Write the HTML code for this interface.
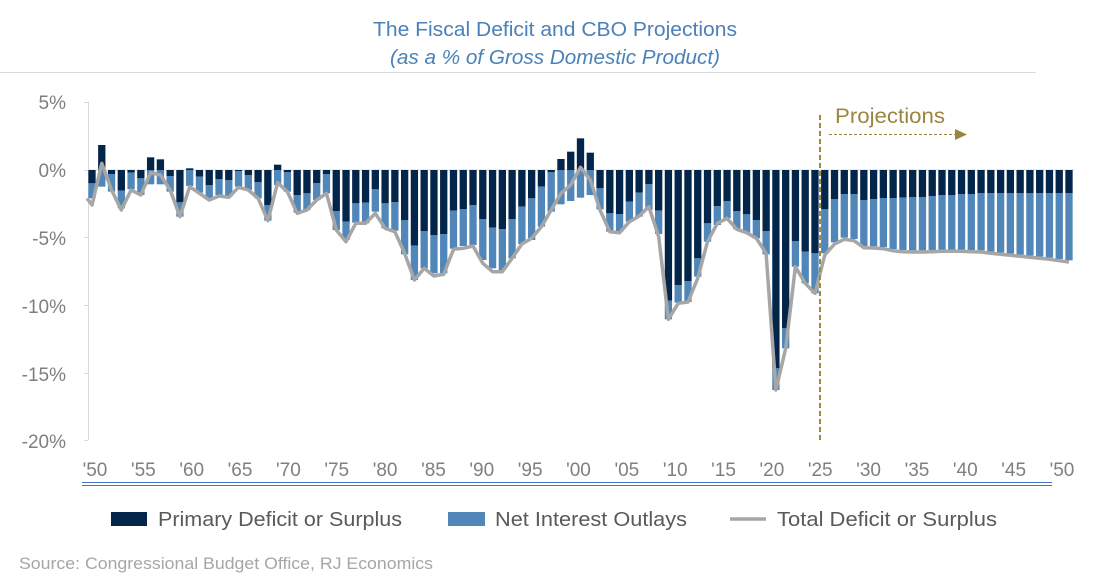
<!DOCTYPE html>
<html><head><meta charset="utf-8"><style>
html,body{margin:0;padding:0;background:#fff;}
svg{display:block;font-family:"Liberation Sans",Calibri,sans-serif;}
</style></head><body>
<svg id="s" width="1106" height="582" viewBox="0 0 1106 582" xmlns="http://www.w3.org/2000/svg">
<text x="555" y="36" text-anchor="middle" font-size="20.5" fill="#4a81b8" textLength="364" lengthAdjust="spacingAndGlyphs">The Fiscal Deficit and CBO Projections</text>
<text x="555" y="64" text-anchor="middle" font-size="20.5" font-style="italic" fill="#4a81b8" textLength="330" lengthAdjust="spacingAndGlyphs">(as a % of Gross Domestic Product)</text>
<line x1="0" y1="72.5" x2="1036" y2="72.5" stroke="#d9d9d9" stroke-width="1"/>
<g font-size="19" fill="#7f7f7f" text-anchor="end">
<text x="66" y="109">5%</text><text x="66" y="177">0%</text><text x="66" y="245">-5%</text>
<text x="66" y="313">-10%</text><text x="66" y="381">-15%</text><text x="66" y="448">-20%</text>
</g>
<line x1="88.5" y1="102" x2="88.5" y2="440" stroke="#d9d9d9"/>
<g id="ticks" stroke="#d9d9d9"></g>
<line x1="88" y1="170" x2="1074" y2="170" stroke="#d9d9d9"/>
<g id="bars"></g>
<polyline id="ln" fill="none" stroke="#a6a6a6" stroke-width="3.5" stroke-linejoin="round"/>
<line x1="820" y1="115" x2="820" y2="442" stroke="#a08a3c" stroke-width="2" stroke-dasharray="5,3"/>
<text x="835" y="123" font-size="21.5" fill="#9c8540" textLength="110" lengthAdjust="spacingAndGlyphs">Projections</text>
<line x1="829" y1="134.5" x2="955" y2="134.5" stroke="#9c8540" stroke-width="1" stroke-dasharray="3,2"/>
<polygon points="955,129 967,134.5 955,140" fill="#9c8540"/>
<g id="xl" font-size="19" fill="#7f7f7f" text-anchor="middle"></g>
<line x1="82" y1="482.5" x2="1052" y2="482.5" stroke="#4472c4" stroke-width="1"/>
<line x1="82" y1="485.5" x2="1052" y2="485.5" stroke="#4472c4" stroke-width="1"/>
<rect x="111" y="512" width="36" height="14" fill="#03254a"/>
<text x="158" y="526" font-size="20.5" fill="#595959" textLength="244" lengthAdjust="spacingAndGlyphs">Primary Deficit or Surplus</text>
<rect x="448" y="512" width="37" height="14" fill="#5087b8"/>
<text x="495" y="526" font-size="20.5" fill="#595959" textLength="192" lengthAdjust="spacingAndGlyphs">Net Interest Outlays</text>
<line x1="730" y1="519" x2="766" y2="519" stroke="#a6a6a6" stroke-width="3.5"/>
<text x="777" y="526" font-size="20.5" fill="#595959" textLength="220" lengthAdjust="spacingAndGlyphs">Total Deficit or Surplus</text>
<text x="19" y="569" font-size="17" fill="#a6a6a6" textLength="414" lengthAdjust="spacingAndGlyphs">Source: Congressional Budget Office, RJ Economics</text>
</svg>
<script>
var A=[[280,325,345],[165,290,220],[252,305,300],[302,355,360],[248,298,300],[265,315,315],[202,283,248],[208,283,255],[258,305,300],[337,380,380],
[235,288,290],[260,308,310],[285,325,330],[267,315,318],[270,320,322],[243,290,292],[255,300,300],[276,325,325],[345,392,392],[224,285,278],
[247,305,305],[315,368,370],[310,360,360],[279,330,330],[252,310,310],[363,420,420],[395,450,455],[340,398,400],[338,400,400],[298,365,370],
[340,415,415],[336,422,425],[390,493,490],[467,570,570],[423,535,535],[435,550,558],[432,550,553],[362,476,478],
[357,468,475],[345,465,468],[387,510,520],[413,535,545],[417,540,545],[387,505,505],[350,462,462],[325,450,445],[290,410,410],[247,365,360],
[207,343,310],[185,333,285],[145,323,232],[188,315,270],[295,358,360],[370,425,425],[372,425,428],[335,395,395],[308,380,378],[282,360,350],
[362,432,440],[632,688,688],[585,638,640],[573,636,636],[505,560,565],[400,455,455],[348,405,400],[333,385,385],[363,418,418],[373,428,428],
[390,445,445],[423,493,490],[835,900,900],[715,775,775],[453,530,530],[485,580,580],[490,610,610]];
var pd=[328,297,282,282,300,297,294,294,293,291,291,288,285,285,282,282,279,279,279,279,279,279,279,279,279,279];
var pl=[465,432,418,422,443,444,446,452,455,456,456,455,454,454,454,455,456,460,463,466,469,472,475,478,482,486];
for(var i=0;i<26;i++)A.push([pd[i]+30,pl[i]+25,pl[i]+30]);
var ns="http://www.w3.org/2000/svg",g=document.getElementById('bars'),pts=[];
function Y(z){return 170+(z-240)/3;}
function R(x,y1,y2,c){var a=Math.min(y1,y2),b=Math.max(y1,y2);if(b-a<0.3)return;var r=document.createElementNS(ns,'rect');
r.setAttribute('x',x-3.65);r.setAttribute('width',7.3);r.setAttribute('y',a);r.setAttribute('height',b-a);r.setAttribute('fill',c);g.appendChild(r);}
for(var i=0;i<A.length;i++){var x=92+i*9.77,d=A[i][0],b=A[i][1],l=A[i][2];
 if(d<240){R(x,Y(d),170,'#03254a');R(x,170,Y(b),'#5087b8');}
 else{R(x,170,Y(d),'#03254a');R(x,Y(d),Y(b),'#5087b8');}
 if(i==0)pts.push((x-5)+','+Y(325));
 pts.push(x.toFixed(1)+','+Y(l).toFixed(1));}
document.getElementById('ln').setAttribute('points',pts.join(' '));
var xl=document.getElementById('xl'),lb=["'50","'55","'60","'65","'70","'75","'80","'85","'90","'95","'00","'05","'10","'15","'20","'25","'30","'35","'40","'45","'50"];
for(var k=0;k<21;k++){var t=document.createElementNS(ns,'text');t.setAttribute('x',95+k*48.35);t.setAttribute('y',476);t.textContent=lb[k];xl.appendChild(t);}
var tk=document.getElementById('ticks');
[102,170,237,305,373,440].forEach(function(y){var l=document.createElementNS(ns,'line');l.setAttribute('x1',84);l.setAttribute('x2',88);l.setAttribute('y1',y+.5);l.setAttribute('y2',y+.5);tk.appendChild(l);});
</script>
</body></html>
